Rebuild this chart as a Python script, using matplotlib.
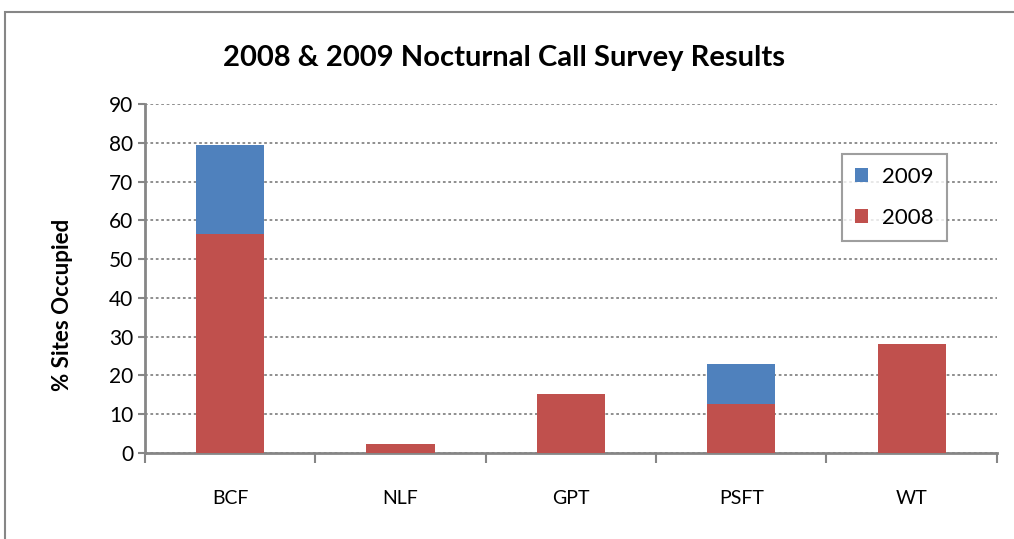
import matplotlib.pyplot as plt
from matplotlib.patches import Rectangle

categories = ["BCF", "NLF", "GPT", "PSFT", "WT"]
pct_2008 = [56.4, 2.3, 15.2, 12.6, 28.1]
pct_2009 = [23.0, 0.0, 0.0, 10.3, 0.0]

red = "#c0504d"
blue = "#4f81bd"

plt.rcParams['font.family'] = ['Lato', 'DejaVu Sans']

fig = plt.figure(figsize=(10.14, 5.39), dpi=100)
ax = fig.add_axes([0.143, 0.1596, 0.84, 0.6475])

x = list(range(len(categories)))
ax.bar(x, pct_2008, width=0.4, color=red, label="2008", zorder=3)
ax.bar(x, pct_2009, width=0.4, bottom=pct_2008, color=blue, label="2009", zorder=3)

ax.set_xlim(-0.5, 4.5)
ax.set_ylim(0, 90)
ax.set_yticks(range(0, 91, 10))
ax.set_xticks([i - 0.5 for i in range(6)])
ax.set_xticklabels([])
ax.set_xticks(x, minor=True)
ax.set_xticklabels(categories, minor=True, fontsize=14)
ax.tick_params(axis='x', which='minor', length=0, pad=27)
ax.tick_params(axis='x', which='major', length=7, width=1.5, color="#868686")
ax.tick_params(axis='y', length=5, width=1.5, color="#868686", labelsize=15)

ax.grid(axis='y', linestyle=(0, (1.5, 1.5)), color="#868686", linewidth=1.3, zorder=0)
for s in ["top", "right"]:
    ax.spines[s].set_visible(False)
for s in ["left", "bottom"]:
    ax.spines[s].set_color("#868686")
    ax.spines[s].set_linewidth(2)

ax.set_ylabel("% Sites Occupied", fontsize=16, fontweight='bold')
ax.yaxis.set_label_coords(-0.085, 0.425)
fig.text(0.497, 0.893, "2008 & 2009 Nocturnal Call Survey Results",
         ha='center', va='center', fontsize=21, fontweight='bold')

handles, labels = ax.get_legend_handles_labels()
leg = ax.legend(handles[::-1], labels[::-1], loc='upper left',
                bbox_to_anchor=(0.818, 0.858), fontsize=16, frameon=True,
                fancybox=False, edgecolor="#868686", handlelength=0.6,
                handleheight=0.6, handletextpad=0.6, labelspacing=0.95,
                borderpad=0.6, borderaxespad=0)
leg.get_frame().set_linewidth(1.5)

fig.patches.append(Rectangle((5 / 1014, -0.1), 1.1, 1 - 12 / 539 + 0.1,
                             transform=fig.transFigure, fill=False,
                             edgecolor="#868686", linewidth=1.5))

fig.savefig("out.png", dpi=100)
